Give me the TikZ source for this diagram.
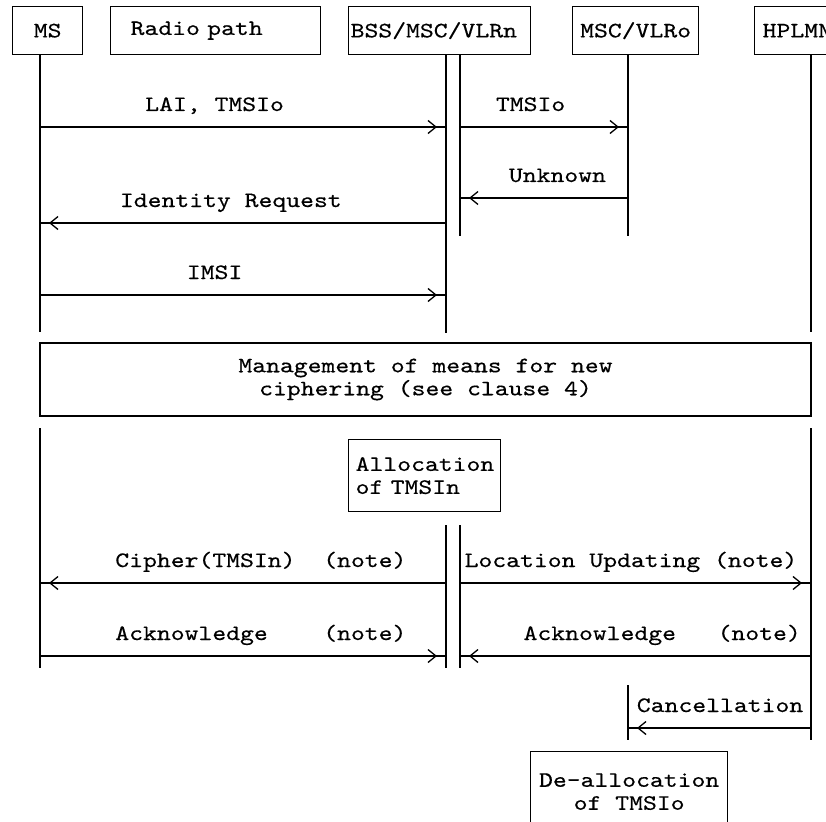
\documentclass[tikz,border=0pt]{standalone}
\usepackage{fontspec}
\newfontfamily\msgtt{lmmono10-regular}[Extension=.otf, FakeStretch=1.2, FakeBold=0.4]
\usetikzlibrary{positioning, decorations.markings, arrows.meta}
\newcommand{\msgfont}{\msgtt\fontsize{22}{23}\selectfont}

\begin{document}
\begin{tikzpicture}[x=1pt, y=-1pt, line width=1.3pt,
    entity/.style={draw, font=\msgfont, minimum height=48pt, inner ysep=0pt, anchor=north west},
    action/.style={draw, font=\msgfont, inner ysep=0pt},
    msg/.style={postaction={decorate}, decoration={markings,
        mark=at position -9pt with {\arrow{Straight Barb[length=8pt, width=13pt]}}}},
    lbl/.style={font=\msgfont, anchor=base, yshift=16pt, inner sep=0pt}]
        \fill[white] (0,0) rectangle (826,821);
        \useasboundingbox (0,0) rectangle (826,821);
        % entities
        \node[entity, minimum width=70pt] (msBox) at (12,6) {MS};
        \node[entity, text width=170pt, inner xsep=20pt, align=left] (radioBox) at (110,6) {Radio~path};
        \node[entity, text width=178pt, inner xsep=2pt, align=left] (bssBox) at (348,6) {BSS/MSC/VLRn};
        \node[entity, minimum width=126pt] (vlroBox) at (572,6) {MSC/VLRo};
        \node[entity, text width=80pt, inner xsep=8pt, align=left] (hplmnBox) at (754,6) {HPLMN};
        \coordinate (ms) at (40,0);
        \coordinate (bssL) at (446,0);
        \coordinate (bssR) at (460,0);
        \coordinate (vlro) at (628,0);
        \coordinate (hplmn) at (811,0);
        % lifelines
        \draw (ms |- msBox.south) -- (ms |- 0,332);
        \draw (bssL |- bssBox.south) -- (bssL |- 0,333);
        \draw (bssR |- bssBox.south) -- (bssR |- 0,236);
        \draw (vlro |- vlroBox.south) -- (vlro |- 0,236);
        \draw (hplmn |- hplmnBox.south) -- (hplmn |- 0,332);
        \draw (ms |- 0,428) -- (ms |- 0,668);
        \draw (bssL |- 0,525) -- (bssL |- 0,668);
        \draw (bssR |- 0,525) -- (bssR |- 0,668);
        \draw (vlro |- 0,685) -- (vlro |- 0,740);
        \draw (hplmn |- 0,428) -- (hplmn |- 0,740);
        % messages
        \draw[msg] (ms |- 0,127) -- node[lbl, pos=.43] (laiLbl) {LAI,~TMSIo} (bssL |- 0,127);
        \draw[msg] (bssR |- 0,127) -- node[lbl, pos=.42] (tmsiLbl) {TMSIo} (vlro |- 0,127);
        \draw[msg] (vlro |- 0,198) -- node[lbl, pos=.42] (unknownLbl) {Unknown} (bssR |- 0,198);
        \draw[msg] (bssL |- 0,223) -- node[lbl, pos=.53] (idReqLbl) {Identity~Request} (ms |- 0,223);
        \draw[msg] (ms |- 0,295) -- node[lbl, pos=.43] (imsiLbl) {IMSI} (bssL |- 0,295);
        \node[action, minimum width=771pt, minimum height=73pt, align=center] (cipherBox) at (425.5,379.5)
            {Management~of~means~for~new\\ciphering~(see~clause~4)};
        \node[action, text width=138pt, inner xsep=7pt, minimum height=72pt, align=left, anchor=north west]
            (allocBox) at (348,439) {Allocation\\of~TMSIn};
        \draw[msg] (bssL |- 0,583) -- node[lbl, pos=.456] (cipherLbl) {Cipher(TMSIn)~~(note)} (ms |- 0,583);
        \draw[msg] (bssR |- 0,583) -- node[lbl, pos=.487] (locUpdLbl) {Location~Updating~(note)} (hplmn |- 0,583);
        \draw[msg] (ms |- 0,656) -- node[lbl, pos=.544] (ackMsLbl) {Acknowledge~~~~(note)} (bssL |- 0,656);
        \draw[msg] (hplmn |- 0,656) -- node[lbl, pos=.424] (ackHlrLbl) {Acknowledge~~~(note)} (bssR |- 0,656);
        \draw[msg] (hplmn |- 0,728) -- node[lbl, pos=.497] (cancelLbl) {Cancellation} (vlro |- 0,728);
        \node[action, minimum width=197pt, minimum height=80pt, align=center, anchor=north west]
            (deallocBox) at (530,751) {De-allocation\\of~TMSIo};
\end{tikzpicture}
\end{document}
